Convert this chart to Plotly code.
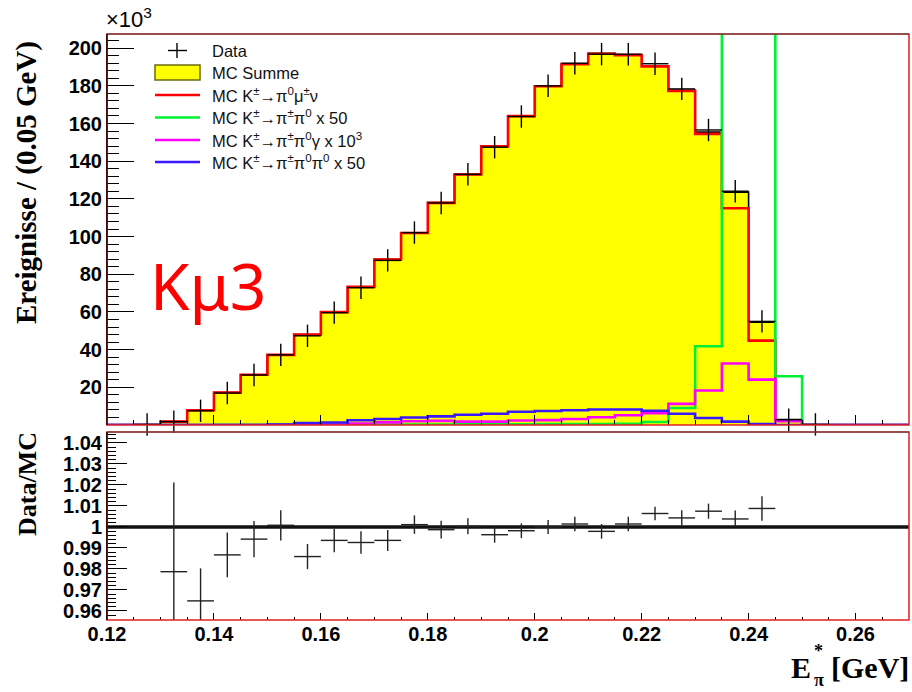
import numpy as np
import plotly.graph_objects as go

# ---- binning of E*_pi (GeV) ----
BIN_LO, BIN_W, N_BINS = 0.12, 0.005, 30
edges = BIN_LO + BIN_W * np.arange(N_BINS + 1)
centers = edges[:-1] + BIN_W / 2

# ---- event counts per bin, in units of 10^3 ----
mc_sum = [0, 0, 1.8, 7.8, 17.2, 26.7, 37.2, 48.0, 60.0, 73.4, 87.9, 102.0, 118.0, 133.0, 148.0,
          164.0, 180.0, 191.7, 197.2, 196.5, 190.5, 177.6, 155.4, 123.6, 54.5, 2.9, 0, 0, 0, 0]
mc_kmu3 = [0, 0, 1.8, 7.8, 17.2, 26.7, 37.2, 48.0, 59.9, 73.3, 87.8, 101.9, 117.9, 132.9, 147.9,
           163.9, 179.8, 191.5, 197.0, 196.3, 190.3, 177.3, 154.5, 115.0, 44.8, 2.3, 0, 0, 0, 0]
mc_k2pi_x50 = [0, 0, 0, 0, 0.1, 0.1, 0.2, 0.2, 0.2, 0.3, 0.3, 0.3, 0.3, 0.4, 0.4,
               0.4, 0.5, 0.5, 0.5, 0.6, 1.6, 9.0, 41.8, 430.0, 485.0, 25.9, 0, 0, 0, 0]
mc_k2pig_x1e3 = [0, 0, 0, 0, 0, 0, 0, 0.2, 0.3, 0.8, 1.4, 2.0, 2.2, 1.8, 1.8,
                 2.4, 2.6, 3.2, 4.1, 5.2, 6.2, 11.2, 18.3, 32.6, 24.1, 2.0, 0, 0, 0, 0]
mc_k3pi_x50 = [0, 0, 0, 0, 0, 0, 0.3, 1.0, 1.3, 2.5, 3.2, 4.0, 4.6, 5.4, 6.0,
               7.0, 7.4, 7.8, 8.2, 8.2, 7.6, 6.0, 3.7, 1.8, 0.5, 0, 0, 0, 0, 0]
data = [None, 0.3, 1.76, 7.53, 16.97, 26.55, 37.23, 47.32, 59.62, 72.86, 87.34, 102.11, 117.85,
        133.04, 147.45, 163.70, 180.0, 191.97, 196.79, 196.78, 191.72, 178.36, 156.57, 124.07,
        54.98, 2.8, 0.3, None, None, None]

# ---- Data/MC ratio (bins 0.1325 ... 0.2425) ----
ratio_x = [0.1325, 0.1375, 0.1425, 0.1475, 0.1525, 0.1575, 0.1625, 0.1675, 0.1725, 0.1775,
           0.1825, 0.1875, 0.1925, 0.1975, 0.2025, 0.2075, 0.2125, 0.2175, 0.2225, 0.2275,
           0.2325, 0.2375, 0.2425]
ratio = [0.9787, 0.9648, 0.9867, 0.9942, 1.0008, 0.9859, 0.9936, 0.9926, 0.9936, 1.0011,
         0.9987, 1.0003, 0.9963, 0.9982, 1.0000, 1.0014, 0.9979, 1.0014, 1.0064, 1.0043,
         1.0075, 1.0038, 1.0088]
ratio_err = [0.0424, 0.0155, 0.0107, 0.0086, 0.0072, 0.0060, 0.0056, 0.0054, 0.0050, 0.0044,
             0.0042, 0.0038, 0.0038, 0.0035, 0.0033, 0.0035, 0.0035, 0.0035, 0.0032, 0.0036,
             0.0036, 0.0040, 0.0058]

x_ticks = [0.12, 0.14, 0.16, 0.18, 0.20, 0.22, 0.24, 0.26]
x_ticktext = ["0.12", "0.14", "0.16", "0.18", "0.2", "0.22", "0.24", "0.26"]
y_ticks = [0, 20, 40, 60, 80, 100, 120, 140, 160, 180, 200]
y_ticktext = ["", "20", "40", "60", "80", "100", "120", "140", "160", "180", "200"]
r_ticks = [0.96, 0.97, 0.98, 0.99, 1.00, 1.01, 1.02, 1.03, 1.04]
r_ticktext = ["0.96", "0.97", "0.98", "0.99", "1", "1.01", "1.02", "1.03", "1.04"]

RED, GREEN, MAGENTA, BLUE, YELLOW = "#ff0000", "#00f033", "#ff00ff", "#3a18ff", "#ffff00"

# ---- page geometry (pixels) ----
W, H = 912, 692
ML, MR, MT, MB = 107, 3, 34, 72
PW, PH = W - ML - MR, H - MT - MB


def px_x(px):
    return (px - ML) / PW


def px_y(py):
    return (H - MB - py) / PH


TOP_DOM = [px_y(425), 1.0]
BOT_DOM = [0.0, px_y(432)]


def step(vals):
    return list(edges), list(vals) + [vals[-1]]


fig = go.Figure()

sx, sy = step(mc_sum)
fig.add_trace(go.Scatter(x=sx, y=sy, mode="lines", line_shape="hv", fill="tozeroy",
                         fillcolor=YELLOW, line=dict(color="black", width=1.6),
                         xaxis="x", yaxis="y"))
for vals, col in [(mc_kmu3, RED), (mc_k2pi_x50, GREEN), (mc_k2pig_x1e3, MAGENTA),
                  (mc_k3pi_x50, BLUE)]:
    sx, sy = step(vals)
    fig.add_trace(go.Scatter(x=sx, y=sy, mode="lines", line_shape="hv",
                             line=dict(color=col, width=2.6), xaxis="x", yaxis="y"))

fig.add_trace(go.Scatter(
    x=centers, y=data, mode="markers", cliponaxis=False,
    marker=dict(symbol="line-ns", size=16, color="black", line=dict(color="black", width=1.4)),
    error_x=dict(type="constant", value=BIN_W / 2, thickness=1.4, width=0, color="black"),
    xaxis="x", yaxis="y"))

# ratio panel
fig.add_trace(go.Scatter(x=[0.12, 0.27], y=[1, 1], mode="lines",
                         line=dict(color="#111111", width=3.6), xaxis="x2", yaxis="y2"))
fig.add_trace(go.Scatter(
    x=ratio_x, y=ratio, mode="markers", marker=dict(size=1, color="#222222"),
    error_x=dict(type="constant", value=BIN_W / 2, thickness=1.4, width=0, color="#222222"),
    error_y=dict(type="data", array=ratio_err, thickness=1.4, width=0, color="#222222"),
    xaxis="x2", yaxis="y2"))

tick_font = dict(family="Liberation Sans, Arial, sans-serif", size=20, color="black", weight="bold")

fig.update_layout(
    width=W, height=H, margin=dict(l=ML, r=MR, t=MT, b=MB),
    paper_bgcolor="white", plot_bgcolor="white", showlegend=False,
    xaxis=dict(domain=[0, 1], anchor="y", range=[0.12, 0.27], showticklabels=False,
               tickmode="linear", tick0=0.12, dtick=0.02, ticks="inside", ticklen=10,
               tickcolor="black", showgrid=False, zeroline=False, showline=False,
               minor=dict(ticks="inside", ticklen=5, tick0=0.12, dtick=0.005,
                          tickcolor="black", showgrid=False)),
    yaxis=dict(domain=TOP_DOM, anchor="x", range=[0, 207.5], tickmode="array",
               tickvals=y_ticks, ticktext=y_ticktext, ticks="inside", ticklen=27,
               tickcolor="black", tickfont=tick_font, showgrid=False, zeroline=False,
               showline=True, linecolor="black", linewidth=1,
               minor=dict(ticks="inside", ticklen=12, tick0=0, dtick=4,
                          tickcolor="black", showgrid=False)),
    xaxis2=dict(domain=[0, 1], anchor="y2", range=[0.12, 0.27], tickmode="array",
                tickvals=x_ticks, ticktext=x_ticktext, ticks="inside", ticklen=7,
                tickcolor="black", tickfont=tick_font, showgrid=False, zeroline=False,
                showline=False,
                minor=dict(ticks="inside", ticklen=3, tick0=0.12, dtick=0.005,
                           tickcolor="black", showgrid=False)),
    yaxis2=dict(domain=BOT_DOM, anchor="x2", range=[0.9557, 1.0452], tickmode="array",
                tickvals=r_ticks, ticktext=r_ticktext, ticks="inside", ticklen=20,
                tickcolor="black", tickfont=tick_font, showgrid=False, zeroline=False,
                showline=True, linecolor="black", linewidth=1,
                minor=dict(ticks="inside", ticklen=9, tick0=0.96, dtick=0.002,
                           tickcolor="black", showgrid=False)),
)

shapes = []
# pad frames
for dom in (TOP_DOM, BOT_DOM):
    shapes.append(dict(type="rect", xref="paper", yref="paper", x0=0, x1=1,
                       y0=dom[0], y1=dom[1], line=dict(color="#e02020", width=1.5)))
    shapes.append(dict(type="line", xref="paper", yref="paper", x0=0, x1=1,
                       y0=dom[1], y1=dom[1], line=dict(color="#444444", width=1.2)))
    shapes.append(dict(type="line", xref="paper", yref="paper", x0=0, x1=0,
                       y0=dom[0], y1=dom[1], line=dict(color="black", width=1.2)))

# legend
rows_y = [50.5, 72.5, 95, 117.5, 140, 162]
lx0, lx1 = 155, 200
shapes.append(dict(type="line", xref="paper", yref="paper", x0=px_x(177), x1=px_x(177),
                   y0=px_y(rows_y[0] - 7.5), y1=px_y(rows_y[0] + 7.5),
                   line=dict(color="black", width=1.4)))
shapes.append(dict(type="line", xref="paper", yref="paper", x0=px_x(168), x1=px_x(187),
                   y0=px_y(rows_y[0]), y1=px_y(rows_y[0]), line=dict(color="black", width=1.4)))
shapes.append(dict(type="rect", xref="paper", yref="paper", x0=px_x(lx0), x1=px_x(lx1),
                   y0=px_y(rows_y[1] + 7.5), y1=px_y(rows_y[1] - 7.5),
                   fillcolor=YELLOW, line=dict(color="#6b6b10", width=1.5)))
for ry, col in zip(rows_y[2:], [RED, GREEN, MAGENTA, BLUE]):
    shapes.append(dict(type="line", xref="paper", yref="paper", x0=px_x(lx0), x1=px_x(lx1),
                       y0=px_y(ry), y1=px_y(ry), line=dict(color=col, width=2.6)))

legend_labels = [
    "Data",
    "MC Summe",
    "MC K<sup>±</sup>→π<sup>0</sup>μ<sup>±</sup>ν",
    "MC K<sup>±</sup>→π<sup>±</sup>π<sup>0</sup> x 50",
    "MC K<sup>±</sup>→π<sup>±</sup>π<sup>0</sup>γ x 10<sup>3</sup>",
    "MC K<sup>±</sup>→π<sup>±</sup>π<sup>0</sup>π<sup>0</sup> x 50",
]
legend_font = dict(family="Liberation Sans, Arial, sans-serif", size=16.5, color="#111111")
annotations = []
for ry, txt in zip(rows_y, legend_labels):
    annotations.append(dict(x=px_x(210), y=px_y(ry), xref="paper", yref="paper", text=txt,
                            showarrow=False, xanchor="left", yanchor="middle", font=legend_font))

serif = "Liberation Serif, Times New Roman, serif"
annotations += [
    dict(x=px_x(104), y=px_y(34), xref="paper", yref="paper", text="×10<sup>3</sup>",
         showarrow=False, xanchor="left", yanchor="bottom",
         font=dict(family="Liberation Sans, Arial, sans-serif", size=22, color="black")),
    dict(x=px_x(26), y=px_y(183), xref="paper", yref="paper",
         text="<b>Ereignisse / (0.05 GeV)</b>", textangle=-90, showarrow=False,
         xanchor="center", yanchor="middle", font=dict(family=serif, size=29, color="black")),
    dict(x=px_x(27), y=px_y(484), xref="paper", yref="paper", text="<b>Data/MC</b>",
         textangle=-90, showarrow=False, xanchor="center", yanchor="middle",
         font=dict(family=serif, size=26, color="black")),
    # x-axis title: E with stacked superscript star and subscript pi
    dict(x=px_x(911), y=px_y(668), xref="paper", yref="paper", text="<b>[GeV]</b>",
         showarrow=False, xanchor="right", yanchor="middle",
         font=dict(family=serif, size=30, color="black")),
    dict(x=px_x(813), y=px_y(668), xref="paper", yref="paper", text="<b>E</b>",
         showarrow=False, xanchor="right", yanchor="middle",
         font=dict(family=serif, size=30, color="black")),
    dict(x=px_x(812), y=px_y(680), xref="paper", yref="paper", text="<b>π</b>",
         showarrow=False, xanchor="left", yanchor="middle",
         font=dict(family=serif, size=18, color="black")),
    dict(x=px_x(812), y=px_y(651), xref="paper", yref="paper", text="<b>*</b>",
         showarrow=False, xanchor="left", yanchor="middle",
         font=dict(family=serif, size=18, color="black")),
    dict(x=px_x(208), y=px_y(285), xref="paper", yref="paper", text="Kμ3",
         showarrow=False, xanchor="center", yanchor="middle",
         font=dict(family="Noto Sans, Open Sans, sans-serif", size=64, color="#ff0000")),
]

fig.update_layout(shapes=shapes, annotations=annotations)
fig.write_html("out.html")
